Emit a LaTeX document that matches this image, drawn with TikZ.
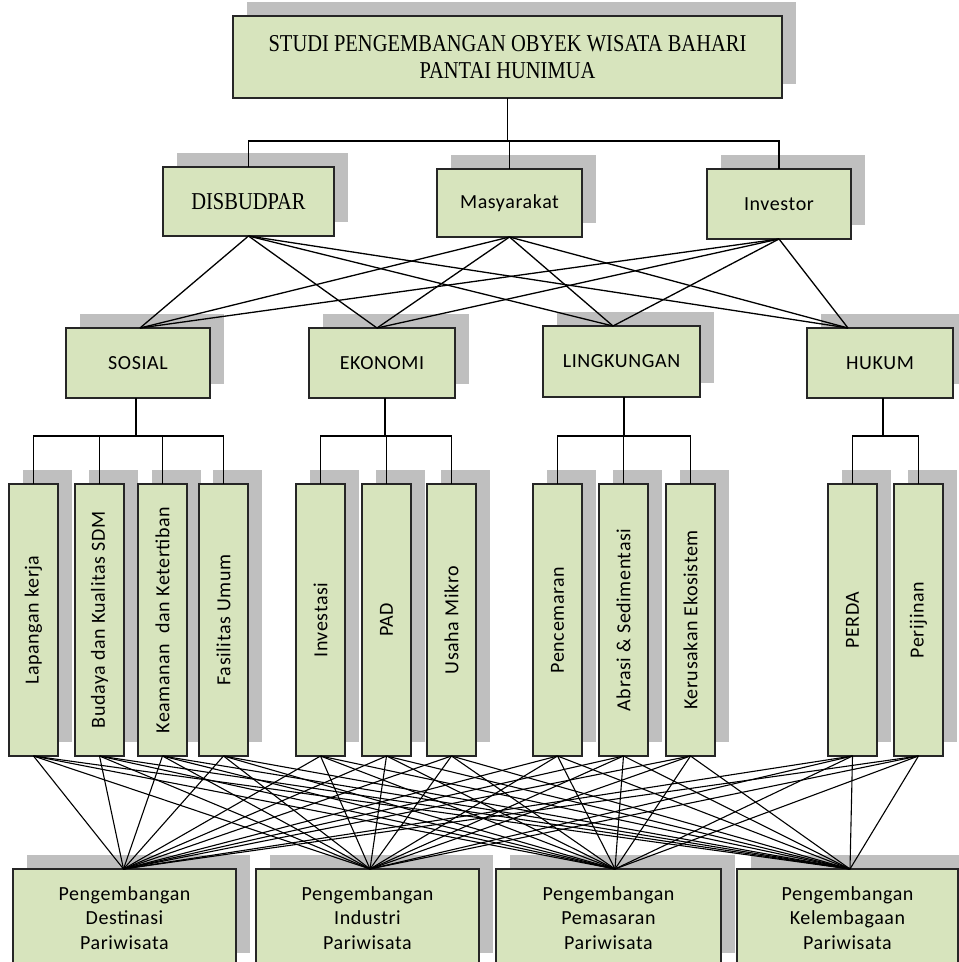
\documentclass[tikz,border=0pt]{standalone}
\usepackage{fontspec}
\setmainfont{Liberation Serif}
\newfontfamily\calib[LetterSpace=3]{Carlito}
\usetikzlibrary{shadows}
\definecolor{boxfill}{HTML}{D7E4BD}
\definecolor{shade}{HTML}{BFBFBF}
\definecolor{edge}{HTML}{262626}
\newcommand{\tallser}[1]{\scalebox{1}[1.18]{#1}}
\tikzset{
  box/.style={draw=edge, line width=1.6pt, fill=boxfill, inner sep=0pt, outer sep=0pt,
    anchor=north west, align=center,
    drop shadow={shadow xshift=14pt, shadow yshift=14pt, fill=shade, opacity=1}},
  serifbox/.style={box, font=\fontsize{20.5}{27}\selectfont},
  sansbox/.style={box, font=\calib\fontsize{20}{24.5}\selectfont},
  vbox/.style={sansbox, minimum width=49pt, minimum height=272pt},
  botbox/.style={sansbox, minimum height=98pt},
  link/.style={line width=1.3pt, black}
}
\begin{document}
\begin{tikzpicture}[x=1pt, y=-1pt]
\useasboundingbox (0,0) rectangle (959,962);
\clip (0,0) rectangle (959,962);
% level 1
\node[serifbox, line width=2pt, minimum width=549pt, minimum height=82pt] (title) at (233,16)
  {\tallser{STUDI PENGEMBANGAN OBYEK WISATA BAHARI}\\\tallser{PANTAI HUNIMUA}};
% level 2
\node[serifbox, minimum width=171pt, minimum height=69pt] (dis) at (163,167) {\tallser{DISBUDPAR}};
\node[sansbox, minimum width=145pt, minimum height=68pt] (mas) at (437,169) {Masyarakat};
\node[sansbox, minimum width=144pt, minimum height=70pt] (inv) at (707,169) {Investor};
% level 3
\node[sansbox, minimum width=144pt, minimum height=70pt] (sos) at (66,328) {SOSIAL};
\node[sansbox, minimum width=146pt, minimum height=70pt] (eko) at (309,328) {EKONOMI};
\node[sansbox, minimum width=157pt, minimum height=71pt] (lin) at (543,326) {LINGKUNGAN};
\node[sansbox, minimum width=146pt, minimum height=70pt] (huk) at (807,328) {HUKUM};
% level 4 (vertical)
\node[vbox] (v1) at (9,484) {\rotatebox{90}{Lapangan kerja}};
\node[vbox] (v2) at (75,484) {\rotatebox{90}{Budaya dan Kualitas SDM}};
\node[vbox] (v3) at (138,484) {\rotatebox{90}{Keamanan\ \ dan Ketertiban}};
\node[vbox] (v4) at (199,484) {\rotatebox{90}{Fasilitas Umum}};
\node[vbox] (v5) at (296,484) {\rotatebox{90}{Investasi}};
\node[vbox] (v6) at (362,484) {\rotatebox{90}{PAD}};
\node[vbox] (v7) at (427,484) {\rotatebox{90}{Usaha Mikro}};
\node[vbox] (v8) at (533,484) {\rotatebox{90}{Pencemaran}};
\node[vbox] (v9) at (599,484) {\rotatebox{90}{Abrasi \& Sedimentasi}};
\node[vbox] (v10) at (666,484) {\rotatebox{90}{Kerusakan Ekosistem}};
\node[vbox] (v11) at (828,484) {\rotatebox{90}{PERDA}};
\node[vbox] (v12) at (894,484) {\rotatebox{90}{Perijinan}};
% level 5
\node[botbox, minimum width=223pt] (b1) at (13,869) {Pengembangan\\Destinasi\\Pariwisata};
\node[botbox, minimum width=223pt] (b2) at (256,869) {Pengembangan\\Industri\\Pariwisata};
\node[botbox, minimum width=225pt] (b3) at (496,869) {Pengembangan\\Pemasaran\\Pariwisata};
\node[botbox, minimum width=221pt] (b4) at (737,869) {Pengembangan\\Kelembagaan\\Pariwisata};
% tree connectors
\coordinate (busA) at (0,141);
\coordinate (busB) at (0,436);
\draw[link] (title.south) -- (title.south |- busA);
\draw[link] (dis.north) |- (inv.north |- busA) -- (inv.north);
\draw[link] (mas.north) -- (mas.north |- busA);
\draw[link] ([xshift=-2pt]sos.south) -- ([xshift=-2pt]sos.south |- busB);
\draw[link] (v1.north) |- (v4.north |- busB) -- (v4.north);
\draw[link] (v2.north) -- (v2.north |- busB);
\draw[link] (v3.north) -- (v3.north |- busB);
\draw[link] ([xshift=3pt]eko.south) -- ([xshift=3pt]eko.south |- busB);
\draw[link] (v5.north) |- (v7.north |- busB) -- (v7.north);
\draw[link] (v6.north) -- (v6.north |- busB);
\draw[link] ([xshift=2.5pt]lin.south) -- ([xshift=2.5pt]lin.south |- busB);
\draw[link] (v8.north) |- (v10.north |- busB) -- (v10.north);
\draw[link] (v9.north) -- (v9.north |- busB);
\draw[link] ([xshift=3pt]huk.south) -- ([xshift=3pt]huk.south |- busB);
\draw[link] (v11.north) |- (v12.north |- busB) -- (v12.north);
% cross links level 2 -> level 3
\foreach \a in {dis,mas,inv}
  \foreach \b/\s in {sos/2,eko/-5,lin/-8.5,huk/-32}
    \draw[link] (\a.south) -- ([xshift=\s pt]\b.north);
% cross links level 4 -> level 5
\foreach \i in {1,...,12}
  \foreach \j/\s in {1/-1,2/2.5,3/6.5,4/2.5}
    \draw[link, line width=1.1pt] (v\i.south) -- ([xshift=\s pt]b\j.north);
\end{tikzpicture}
\end{document}
